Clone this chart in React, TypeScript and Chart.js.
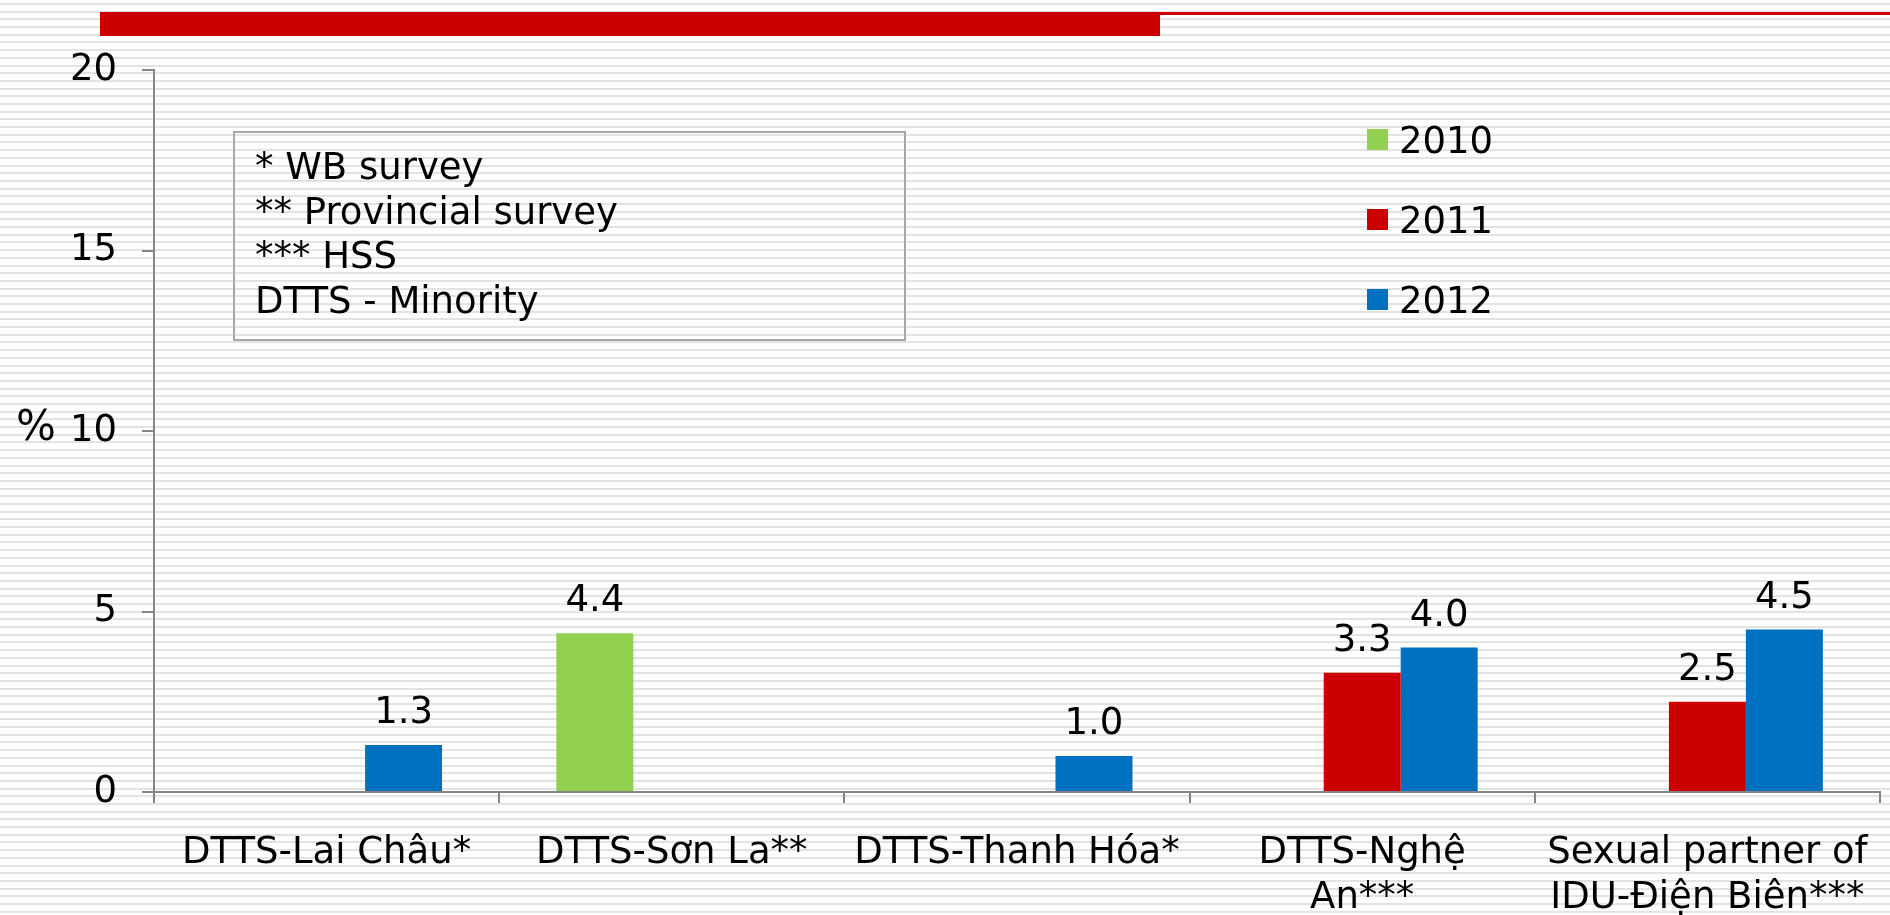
import React, { useEffect, useRef } from "react";
import { Chart, registerables } from "chart.js";

Chart.register(...registerables);

const categories: (string | string[])[] = [
  "DTTS-Lai Châu*",
  "DTTS-Sơn La**",
  "DTTS-Thanh Hóa*",
  ["DTTS-Nghệ", "An***"],
  ["Sexual partner of", "IDU-Điện Biên***"],
];
const seriesNames = ["2010", "2011", "2012"];
const series2010: (number | null)[] = [null, 4.4, null, null, null];
const series2011: (number | null)[] = [null, null, null, 3.3, 2.5];
const series2012: (number | null)[] = [1.3, null, 1.0, 4.0, 4.5];
const seriesColors = ["#92D050", "#CC0000", "#0070C0"];
const yTicks = [0, 5, 10, 15, 20];
const noteLines = ["* WB survey", "** Provincial survey", "*** HSS", "DTTS - Minority"];
const yAxisTitle = "%";

const FONT = '"DejaVu Sans", Verdana, sans-serif';
const AXIS = "#868686";

const decoPlugin = {
  id: "deco",
  beforeDraw(chart: any) {
    const ctx = chart.ctx as CanvasRenderingContext2D;
    ctx.save();
    // striped page background
    ctx.fillStyle = "#ffffff";
    ctx.fillRect(0, 0, chart.width, chart.height);
    ctx.fillStyle = "#e3e3e3";
    const period = 100 / 13;
    for (let k = 0; 3 + k * period < chart.height; k++) {
      ctx.fillRect(0, Math.round(3 + k * period), chart.width, 2);
    }
    // header rule
    ctx.fillStyle = "#CC0000";
    ctx.fillRect(100, 12, 1060, 24);
    ctx.fillRect(1160, 12, 730, 3);
    // note box
    ctx.strokeStyle = "#A6A6A6";
    ctx.lineWidth = 2;
    ctx.strokeRect(234, 132, 671, 208);
    ctx.fillStyle = "#000";
    ctx.font = `37px ${FONT}`;
    ctx.textBaseline = "alphabetic";
    ctx.textAlign = "left";
    noteLines.forEach((t, i) => ctx.fillText(t, 255, 179 + i * 44.7));
    // y title
    ctx.font = `42px ${FONT}`;
    ctx.textAlign = "center";
    ctx.fillText(yAxisTitle, 36, 440);
    ctx.restore();
  },
  afterDatasetsDraw(chart: any) {
    const ctx = chart.ctx as CanvasRenderingContext2D;
    ctx.save();
    ctx.font = `37px ${FONT}`;
    ctx.fillStyle = "#000";
    ctx.textAlign = "center";
    ctx.textBaseline = "alphabetic";
    chart.data.datasets.forEach((ds: any, di: number) => {
      const meta = chart.getDatasetMeta(di);
      meta.data.forEach((el: any, i: number) => {
        const v = ds.data[i];
        if (v === null || v === undefined) return;
        ctx.fillText(Number(v).toFixed(1), el.x, el.y - 22);
      });
    });
    // legend
    chart.data.datasets.forEach((ds: any, di: number) => {
      const cy = 139.5 + di * 80;
      ctx.fillStyle = ds.backgroundColor;
      ctx.fillRect(1367, cy - 10.5, 21, 21);
      ctx.fillStyle = "#000";
      ctx.textAlign = "left";
      ctx.textBaseline = "middle";
      ctx.fillText(ds.label, 1399, cy + 4);
    });
    ctx.restore();
  },
};

export default function App() {
  const ref = useRef<HTMLCanvasElement | null>(null);
  useEffect(() => {
    if (!ref.current) return;
    const seriesData = [series2010, series2011, series2012];
    const chart = new Chart(ref.current, {
      type: "bar",
      data: {
        labels: categories,
        datasets: seriesNames.map((n, i) => ({
          label: n,
          data: seriesData[i],
          backgroundColor: seriesColors[i],
          borderWidth: 0,
          barPercentage: 1,
          categoryPercentage: 0.669,
        })),
      },
      options: {
        responsive: false,
        animation: false,
        maintainAspectRatio: false,
        layout: { padding: { left: 0, right: 10, top: 70, bottom: 0 } },
        plugins: {
          legend: { display: false },
          tooltip: { enabled: false },
          title: { display: false },
        },
        scales: {
          x: {
            grid: {
              display: true,
              drawOnChartArea: false,
              drawTicks: true,
              tickLength: 11,
              color: AXIS,
              lineWidth: 2,
              offset: true,
            },
            border: { display: true, color: AXIS, width: 2 },
            ticks: {
              color: "#000",
              font: { family: FONT, size: 37, lineHeight: 1.24 },
              padding: 27,
              maxRotation: 0,
              autoSkip: false,
            },
            afterFit: (s: any) => {
              s.height = 123;
              s.paddingLeft = 0;
              s.paddingRight = 0;
            },
          },
          y: {
            min: 0,
            max: 20,
            grid: {
              display: true,
              drawOnChartArea: false,
              drawTicks: true,
              tickLength: 12,
              color: AXIS,
              lineWidth: 2,
            },
            border: { display: true, color: AXIS, width: 2 },
            ticks: {
              color: "#000",
              font: { family: FONT, size: 37 },
              padding: 25,
            },
            afterBuildTicks: (s: any) => {
              s.ticks = yTicks.map((v) => ({ value: v }));
            },
            afterFit: (s: any) => {
              s.width = 154;
              s.paddingTop = 0;
              s.paddingBottom = 0;
            },
          },
        },
      },
      plugins: [decoPlugin],
    });
    return () => chart.destroy();
  }, []);

  return (
    <div
      style={{
        position: "absolute",
        left: 0,
        top: 0,
        width: 1890,
        height: 915,
        overflow: "hidden",
        background: "#ffffff",
      }}
    >
      <canvas ref={ref} width={1890} height={915} style={{ display: "block" }} />
    </div>
  );
}
